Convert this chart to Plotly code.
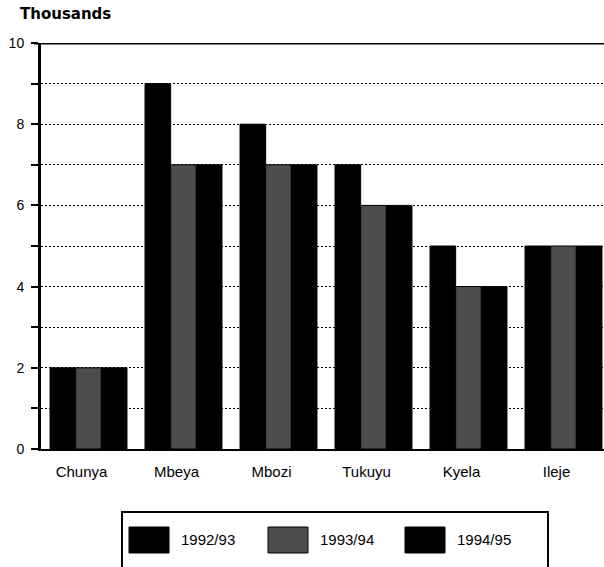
import plotly.graph_objects as go

districts = ["Chunya", "Mbeya", "Mbozi", "Tukuyu", "Kyela", "Ileje"]
series_names = ["1992/93", "1993/94", "1994/95"]
v1992 = [2, 9, 8, 7, 5, 5]
v1993 = [2, 7, 7, 6, 4, 5]
v1994 = [2, 7, 7, 6, 4, 5]
colors = ["#000000", "#4d4d4d", "#000000"]
y_ticks = list(range(0, 11))
y_ticktext = [str(v) if v % 2 == 0 else "" for v in y_ticks]

W, H = 604, 567
L, T, B = 41, 43, 118
plot_w = W - L
plot_h = H - T - B

fig = go.Figure()
for name, vals, c in zip(series_names, [v1992, v1993, v1994], colors):
    fig.add_trace(go.Bar(x=districts, y=vals, name=name, marker_color=c,
                         marker_line_color="#000000", marker_line_width=1,
                         showlegend=False))

def px_x(px):
    return (px - L) / plot_w

def px_y(py):
    return (H - B - py) / plot_h

shapes = []
annotations = []
# top frame line
shapes.append(dict(type="line", xref="paper", yref="y", x0=px_x(34), x1=1, y0=10, y1=10,
                   line=dict(color="black", width=3)))
# legend box
shapes.append(dict(type="rect", xref="paper", yref="paper", x0=px_x(122), x1=px_x(548),
                   y0=px_y(512), y1=px_y(590), line=dict(color="black", width=2),
                   fillcolor="rgba(0,0,0,0)"))
sw_left = [129, 268, 405]
for i, (name, c) in enumerate(zip(series_names, colors)):
    x0 = sw_left[i]
    shapes.append(dict(type="rect", xref="paper", yref="paper", x0=px_x(x0), x1=px_x(x0 + 40),
                       y0=px_y(553), y1=px_y(527), fillcolor=c,
                       line=dict(color="black", width=1)))
    annotations.append(dict(xref="paper", yref="paper", x=px_x(x0 + 50), y=px_y(539),
                            text=name, showarrow=False, xanchor="left", yanchor="middle",
                            font=dict(size=15, color="black")))
annotations.append(dict(xref="paper", yref="paper", x=px_x(18), y=px_y(14),
                        text="<b>Thousands</b>", showarrow=False, xanchor="left",
                        yanchor="middle",
                        font=dict(size=15, color="black", family="DejaVu Sans")))

fig.update_layout(
    width=W, height=H,
    margin=dict(l=L, r=0, t=T, b=B),
    paper_bgcolor="white", plot_bgcolor="white",
    barmode="group", bargap=0.19, bargroupgap=0,
    font=dict(family="Liberation Sans, Arial, sans-serif", size=14, color="black"),
    xaxis=dict(range=[-0.5, -0.5 + plot_w / 95.0], showline=True, linecolor="black",
               linewidth=2, ticks="", showgrid=False, tickfont=dict(size=15),
               ticklabelstandoff=8, ticklabelshift=-7, fixedrange=True),
    yaxis=dict(range=[0, 10], tickvals=y_ticks, ticktext=y_ticktext, ticks="outside",
               ticklen=7, tickwidth=1.5, tickcolor="black", showline=True,
               linecolor="black", linewidth=3, showgrid=True, gridcolor="black",
               gridwidth=1, griddash="2px,2px", zeroline=False, tickfont=dict(size=14),
               ticklabelstandoff=4),
    shapes=shapes, annotations=annotations,
)
fig.write_html("out.html")
